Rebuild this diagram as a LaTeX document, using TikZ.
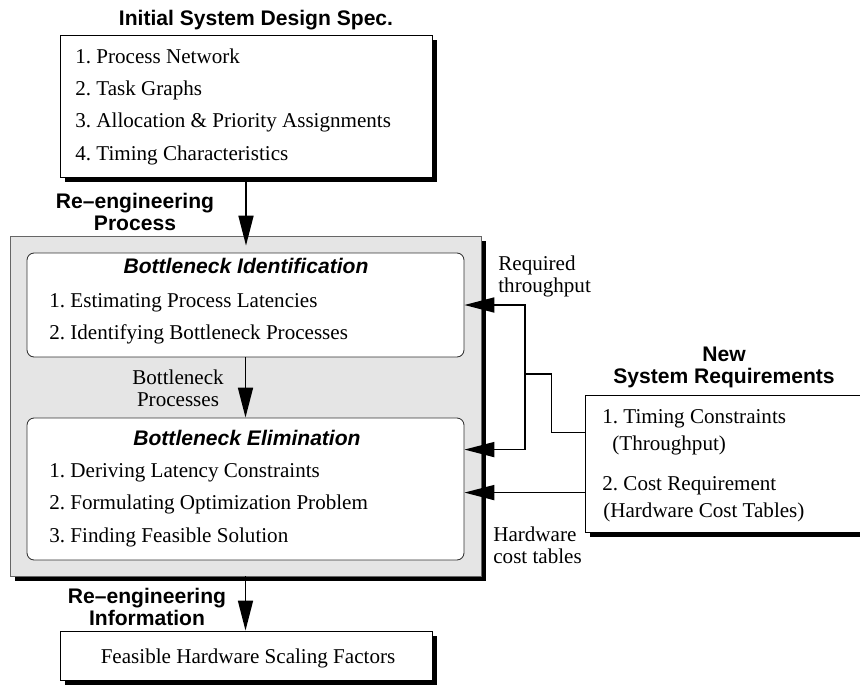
\documentclass[tikz,border=0pt]{standalone}
\usepackage{fontspec}
\setmainfont{Liberation Serif}
\setsansfont{Liberation Sans}
\frenchspacing
\usetikzlibrary{positioning}
\usetikzlibrary{calc}
\usetikzlibrary{arrows.meta}
\usetikzlibrary{shadows}
\tikzset{>={Triangle[length=0.6cm,width=0.3cm]}}
\tikzset{box/.style={draw, fill=white, inner sep=0pt, line width=0.5pt,
    drop shadow={shadow xshift=0.1cm,shadow yshift=-0.1cm,fill=black,opacity=1}}}
\tikzset{rbox/.style={draw=black!80, fill=white, rounded corners=0.14cm, inner sep=0pt, line width=0.5pt}}
\tikzset{itm/.style={anchor=base west, inner sep=0pt, font=\fontsize{12}{14}\selectfont}}
\tikzset{hd/.style={inner sep=0pt, align=center, font=\sffamily\bfseries\fontsize{12}{12.5}\selectfont}}
\tikzset{sub/.style={inner sep=0pt, font=\sffamily\bfseries\itshape\fontsize{12}{12.5}\selectfont}}
\tikzset{lbl/.style={inner sep=0pt, font=\fontsize{12}{12.5}\selectfont}}
\tikzset{con/.style={line width=1pt}}

\begin{document}
\begin{tikzpicture}[x=0.02cm, y=-0.02cm]
    \useasboundingbox (0,0) rectangle (860,687);

    % initial spec
    \node[box, minimum width=7.44cm, minimum height=2.84cm] (spec) at (246,106) {};
    \node[hd, anchor=base] (spect) at (256,25) {Initial System Design Spec.};
    \node[itm] (s1) at (75,63) {1. Process Network};
    \node[below=0.65cm of s1.base west, itm] (s2) {2. Task Graphs};
    \node[below=0.65cm of s2.base west, itm] (s3) {3. Allocation \& Priority Assignments};
    \node[below=0.65cm of s3.base west, itm] (s4) {4. Timing Characteristics};

    % re-engineering process
    \node[box, fill=black!10, draw=black!60, minimum width=9.42cm, minimum height=6.8cm] (proc) at (245.5,406) {};

    \node[rbox, minimum width=8.74cm, minimum height=2.08cm] (ident) at (245.5,305) {};
    \node[sub, anchor=base] (identt) at (246,273) {Bottleneck Identification};
    \node[itm] (i1) at (49,307) {1. Estimating Process Latencies};
    \node[below=0.66cm of i1.base west, itm] (i2) {2. Identifying Bottleneck Processes};

    \node[rbox, minimum width=8.74cm, minimum height=2.84cm] (elim) at (245.5,489) {};
    \node[sub, anchor=base] (elimt) at (247,445) {Bottleneck Elimination};
    \node[itm] (e1) at (49,477) {1. Deriving Latency Constraints};
    \node[below=0.66cm of e1.base west, itm] (e2) {2. Formulating Optimization Problem};
    \node[below=0.66cm of e2.base west, itm] (e3) {3. Finding Feasible Solution};

    % result
    \node[box, minimum width=7.44cm, minimum height=0.98cm] (res) at (246,655.5) {};
    \node[lbl, anchor=base] (rest) at (248,663) {Feasible Hardware Scaling Factors};

    % new requirements
    \node[box, minimum width=5.62cm, minimum height=2.74cm] (req) at (725.5,463.5) {};
    \node[hd, anchor=base] (reqt) at (724,383) {New\\System Requirements};
    \node[itm] (r1) at (602,423) {1. Timing Constraints};
    \node[itm] (r2) at (612,450) {(Throughput)};
    \node[itm] (r3) at (602,490) {2. Cost Requirement};
    \node[itm] (r4) at (603,517) {(Hardware Cost Tables)};

    % labels (base = last line)
    \node[hd, anchor=base] (l1) at (135,230) {Re–engineering\\Process};
    \node[lbl, align=center, anchor=base] (l2) at (178,406) {Bottleneck\\Processes};
    \node[hd, anchor=base] (l3) at (147,625) {Re–engineering\\Information};
    \node[lbl, align=left, anchor=base west] (l4) at (498,292) {Required\\throughput};
    \node[lbl, align=left, anchor=base west] (l5) at (493,563) {Hardware\\cost tables};

    % flow
    \draw[->, con, shorten >=-0.2cm] (spec.south) -- (spec.south |- proc.north);
    \draw[->, con] (ident) -- (elim);
    \draw[->, con] (proc.south) -- (proc.south |- res.north);

    \coordinate (tpout) at ($(req.north west)+(0,38)$);
    \coordinate (tpmid) at (525,374);
    \draw[con] (tpout) -- ++(-33,0) |- (tpmid);
    \draw[->, con] (tpmid) |- (ident.east);
    \draw[->, con] (tpmid) |- ($(elim.north east)+(0,32)$);

    \coordinate (cost) at ($(req.north west)+(0,98)$);
    \draw[->, con] (cost) -- (cost -| elim.east);
\end{tikzpicture}
\end{document}
